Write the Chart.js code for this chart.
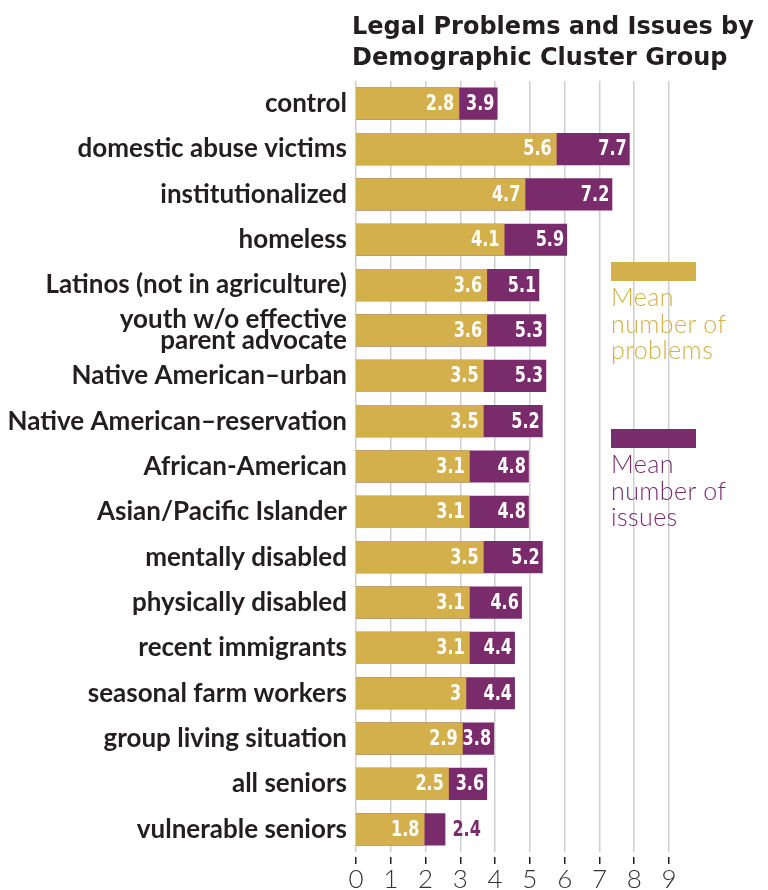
<!DOCTYPE html>
<html>
<head>
<meta charset="utf-8">
<script src="https://cdn.jsdelivr.net/npm/chart.js@4.4.0/dist/chart.umd.min.js"></script>
<style>
  html, body { margin: 0; padding: 0; background: #fff; }
  #wrap { position: relative; width: 768px; height: 890px; }
  #title { position: absolute; left: 352px; top: 11px; font: bold 24px "DejaVu Sans", sans-serif; line-height: 31px; color: #231f20; white-space: nowrap; }
  .key { position: absolute; left: 611px; }
  .swatch { width: 85px; height: 19px; }
  .key-text { font: 300 25px Lato, sans-serif; letter-spacing: 0.4px; line-height: 26.5px; margin-top: 2px; }
</style>
</head>
<body>
<div id="wrap">
  <canvas id="chart" width="768" height="890"></canvas>
  <div id="title">Legal Problems and Issues by<br>Demographic Cluster Group</div>
</div>
<script>
// Data
const groups = [
  'control',
  'domestic abuse victims',
  'institutionalized',
  'homeless',
  'Latinos (not in agriculture)',
  ['youth w/o effective', 'parent advocate'],
  'Native American\u2013urban',
  'Native American\u2013reservation',
  'African-American',
  'Asian/Pacific Islander',
  'mentally disabled',
  'physically disabled',
  'recent immigrants',
  'seasonal farm workers',
  'group living situation',
  'all seniors',
  'vulnerable seniors'
];
const problems = [2.8, 5.6, 4.7, 4.1, 3.6, 3.6, 3.5, 3.5, 3.1, 3.1, 3.5, 3.1, 3.1, 3, 2.9, 2.5, 1.8];
const issues   = [3.9, 7.7, 7.2, 5.9, 5.1, 5.3, 5.3, 5.2, 4.8, 4.8, 5.2, 4.6, 4.4, 4.4, 3.8, 3.6, 2.4];
const xTicks = [0, 1, 2, 3, 4, 5, 6, 7, 8, 9];
const seriesNames = [['Mean', 'number of', 'problems'], ['Mean', 'number of', 'issues']];

const GOLD = '#d3b04b';
const PURPLE = '#7a2b6c';
const INK = '#231f20';
// the original draws its bars a little longer than the axis says
const barShift = 0.17;
const squeeze = 0.85;

// legend, built from the series
const keyTops = [262, 429];
seriesNames.forEach((lines, i) => {
  const col = i === 0 ? GOLD : PURPLE;
  const key = document.createElement('div');
  key.className = 'key';
  key.style.top = keyTops[i] + 'px';
  key.innerHTML = '<div class="swatch" style="background:' + col + '"></div>' +
    '<div class="key-text" style="color:' + col + '">' + lines.join('<br>') + '</div>';
  document.getElementById('wrap').appendChild(key);
});

// condensed text: squeeze the font horizontally
function drawNarrow(ctx, txt, x, y, align) {
  const w = ctx.measureText(txt).width * squeeze;
  const left = align === 'right' ? x - w : x;
  ctx.save();
  ctx.translate(left, y);
  ctx.scale(squeeze, 1);
  ctx.textAlign = 'left';
  ctx.fillText(txt, 0, 0);
  ctx.restore();
}

// value labels on the bars
const barLabels = {
  id: 'barLabels',
  afterDatasetsDraw(chart) {
    const ctx = chart.ctx;
    const gold = chart.getDatasetMeta(0).data;
    const purple = chart.getDatasetMeta(1).data;
    ctx.save();
    ctx.font = 'bold 21px "DejaVu Sans Condensed", "DejaVu Sans", sans-serif';
    ctx.textBaseline = 'middle';
    gold.forEach((bar, i) => {
      ctx.fillStyle = '#fff';
      drawNarrow(ctx, String(problems[i]), bar.x - 5, bar.y + 1, 'right');
      const p = purple[i];
      const txt = String(issues[i]);
      const w = ctx.measureText(txt).width * squeeze;
      if (p.x - bar.x > w + 1) {
        drawNarrow(ctx, txt, p.x - 3, p.y + 1, 'right');
      } else {
        ctx.fillStyle = PURPLE;
        drawNarrow(ctx, txt, p.x + 7, p.y + 1, 'left');
      }
    });
    ctx.restore();
  }
};

new Chart(document.getElementById('chart'), {
  type: 'bar',
  data: {
    labels: groups,
    datasets: [{
      label: 'Mean number of problems',
      data: problems,
      backgroundColor: GOLD,
      xAxisID: 'xb',
      base: -barShift,
      grouped: false,
      categoryPercentage: 1,
      barPercentage: 0.71
    }, {
      label: 'Mean number of issues',
      data: issues,
      backgroundColor: PURPLE,
      xAxisID: 'xb',
      base: -barShift,
      grouped: false,
      categoryPercentage: 1,
      barPercentage: 0.71
    }]
  },
  options: {
    indexAxis: 'y',
    responsive: false,
    animation: false,
    devicePixelRatio: 1,
    layout: { padding: { top: 81, right: 99, left: 0, bottom: 0 } },
    plugins: {
      legend: { display: false },
      tooltip: { enabled: false }
    },
    scales: {
      x: {
        type: 'linear',
        position: 'bottom',
        min: 0,
        max: 9,
        afterBuildTicks: s => { s.ticks = xTicks.map(v => ({ value: v })); },
        afterFit: s => { s.height = 38; },
        grid: {
          color: '#cfcfcf',
          lineWidth: 1.5,
          tickColor: INK,
          tickWidth: 1.5,
          tickLength: 12,
          tickBorderDash: [0, 5, 7, 100]
        },
        border: { display: false },
        ticks: {
          padding: 0,
          color: '#333',
          font: { family: 'Lato', weight: 300, size: 26 }
        }
      },
      xb: {
        type: 'linear',
        display: false,
        min: -barShift,
        max: 9 - barShift
      },
      y: {
        type: 'category',
        afterFit: s => { s.width = 356; },
        grid: { display: false, drawTicks: false },
        border: { display: false },
        ticks: {
          padding: 9,
          color: INK,
          font: { family: 'Lato', weight: 'bold', size: 26, lineHeight: 0.8 }
        }
      }
    }
  },
  plugins: [barLabels]
});
</script>
</body>
</html>
